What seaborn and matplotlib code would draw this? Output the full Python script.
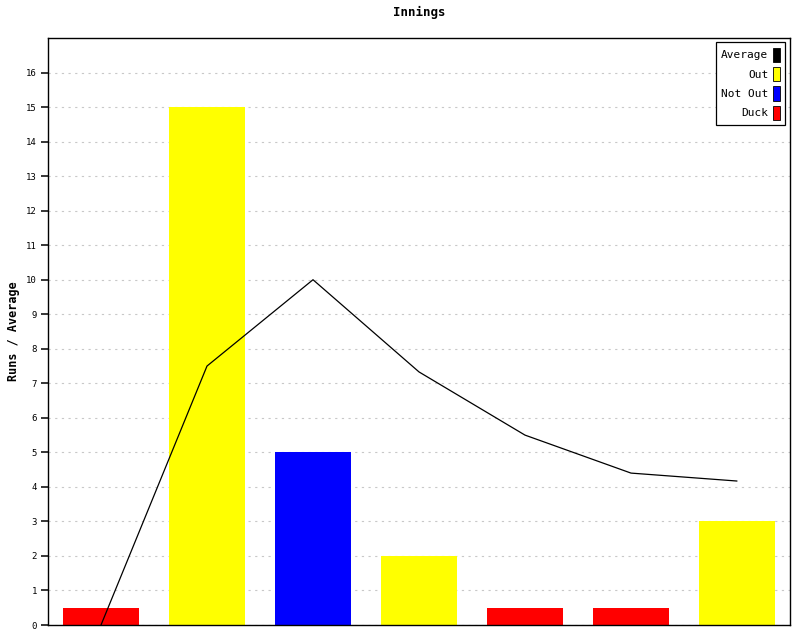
import matplotlib
matplotlib.use("Agg")
import matplotlib.pyplot as plt
import matplotlib.patches as mpatches
import seaborn as sns
import pandas as pd

innings = [1, 2, 3, 4, 5, 6, 7]
runs = [0.5, 15, 5, 2, 0.5, 0.5, 3]
result = ["Duck", "Out", "Not Out", "Out", "Duck", "Duck", "Out"]
average = [0, 7.5, 10, 7.33, 5.5, 4.4, 4.17]
colors = {"Average": "#000000", "Out": "#ffff00", "Not Out": "#0000ff", "Duck": "#ff0000"}

df = pd.DataFrame({"Innings": innings, "Runs": runs, "Result": result, "Average": average})

sns.set_style("ticks")
plt.rcParams["font.family"] = ["DejaVu Sans Mono"]
plt.rcParams["text.color"] = "black"
plt.rcParams["axes.labelcolor"] = "black"
plt.rcParams["ytick.color"] = "black"

fig = plt.figure(figsize=(8, 6.4), dpi=100)
ax = fig.add_axes([0.06, 0.0234, 0.9275, 0.9172])

sns.barplot(data=df, x="Innings", y="Runs", hue="Result", palette=colors,
            dodge=False, width=0.71, legend=False, saturation=1, linewidth=0, ax=ax)
ax.plot(range(len(innings)), df["Average"], color="black", linewidth=0.9)

ax.set_ylim(0, 17)
ax.set_xlim(-0.5, len(innings) - 0.5)
ax.set_yticks(range(0, 17))
ax.set_xticks([])
ax.set_xlabel("")
ax.set_ylabel("Runs / Average", fontsize=8.5, fontweight="bold")
ax.yaxis.set_label_coords(-0.038, 0.5)
ax.set_title("Innings", fontsize=9, fontweight="bold", pad=16)
ax.yaxis.grid(True, linestyle=(0, (2, 4)), color="#c8c8c8", linewidth=0.8)
ax.set_axisbelow(True)
for s in ax.spines.values():
    s.set_visible(True)
    s.set_color("black")
    s.set_linewidth(1)

# tick marks: reapply after everything else is set
ax.tick_params(axis="y", which="major", direction="out", length=5, width=1.1,
               labelsize=6.5, left=True, colors="black", pad=3)
for t in ax.yaxis.get_major_ticks():
    t.tick1line.set_visible(True)
    t.tick1line.set_markeredgecolor("black")
    t.tick1line.set_zorder(5)

handles = [mpatches.Rectangle((0, 0), 1, 1, facecolor=colors[k], edgecolor="black", linewidth=0.6)
           for k in ["Average", "Out", "Not Out", "Duck"]]
leg = ax.legend(handles, ["Average", "Out", "Not Out", "Duck"], loc="upper right",
                markerfirst=False, fontsize=8, handlelength=0.6, handleheight=1.6,
                handletextpad=0.4, labelspacing=0.45, fancybox=False, framealpha=1,
                edgecolor="black", borderpad=0.5, borderaxespad=0,
                bbox_to_anchor=(0.9935, 0.993))
leg.get_frame().set_linewidth(0.9)

fig.savefig("out.png", dpi=100)
